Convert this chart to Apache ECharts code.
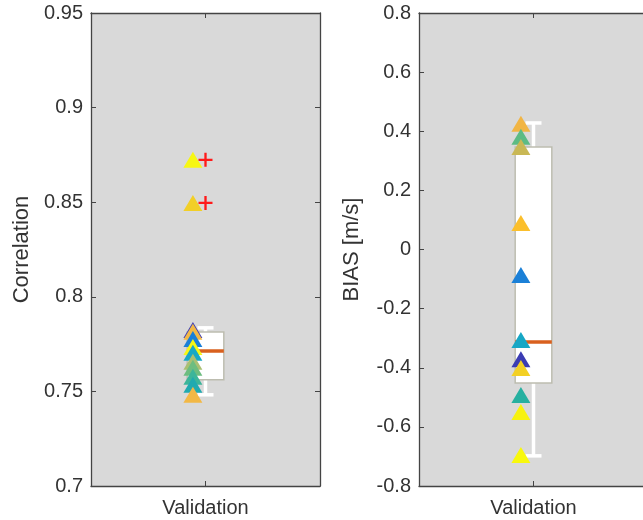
<!DOCTYPE html>
<html>
<head>
<meta charset="utf-8">
<script src="https://cdn.jsdelivr.net/npm/echarts@6/dist/echarts.min.js"></script>
<style>
html,body{margin:0;padding:0;background:#fff;}
#chart{width:643px;height:520px;}
</style>
</head>
<body>
<div id="chart"></div>
<script>
// ---- data ----
const categoryLabel = 'Validation';
const corrValues = [0.8724, 0.8496, 0.7825, 0.7815, 0.7777, 0.7735, 0.7704, 0.7657, 0.7625, 0.7577, 0.7535, 0.7482];
const corrColors = ['#f7f713', '#f2cf27', '#3d3db5', '#f2b845', '#1a7fd8', '#f7f713', '#17a8c6', '#a9c072', '#6dbd80', '#3cb59a', '#20aab0', '#f2b845'];
const corrBox = [0.7482, 0.7561, 0.7714, 0.7814, 0.7836]; // lower whisker, q1, median, q3, upper whisker
const corrOutliers = [0.8724, 0.8496];
const corrTicks = [0.7, 0.75, 0.8, 0.85, 0.9, 0.95];

const biasValues = [0.425, 0.381, 0.347, 0.090, -0.086, -0.306, -0.371, -0.401, -0.492, -0.550, -0.695];
const biasColors = ['#f1b544', '#5dbb84', '#c9b855', '#fbbf2c', '#1b80d7', '#17a7c5', '#3b3cb3', '#f3d024', '#26b0a0', '#f7f20e', '#f8f80c'];
const biasBox = [-0.698, -0.452, -0.313, 0.347, 0.428];
const biasOutliers = [];
const biasTicks = [-0.8, -0.6, -0.4, -0.2, 0, 0.2, 0.4, 0.6, 0.8];

// ---- layout / style ----
const catPos = 1;
const markerPos = 0.945;
const boxHalf = 0.08;
const capHalf = 0.035;
const axisColor = '#444';
const textColor = '#333';
const font = '"Liberation Sans", Arial, Helvetica, sans-serif';

const chart = echarts.init(document.getElementById('chart'), null, {renderer: 'canvas'});

function xAxes(gridIndex) {
  const base = {
    gridIndex, type: 'value', min: 0.5, max: 1.5, interval: 0.5,
    splitLine: {show: false},
    axisLine: {show: true, onZero: false, lineStyle: {color: axisColor, width: 1.3}},
    axisTick: {show: true, inside: true, length: 5, lineStyle: {color: axisColor}}
  };
  return [
    Object.assign({}, base, {
      position: 'bottom',
      axisLabel: {show: true, margin: 12, color: textColor, fontFamily: font, fontSize: 20,
        formatter: v => Math.abs(v - catPos) < 1e-6 ? categoryLabel : ''}
    }),
    Object.assign({}, base, {position: 'top', axisLabel: {show: false}})
  ];
}
function yAxes(gridIndex, ticks, name, nameGap) {
  const step = ticks[1] - ticks[0];
  const base = {
    gridIndex, type: 'value', min: ticks[0], max: ticks[ticks.length - 1], interval: step,
    splitLine: {show: false},
    axisLine: {show: true, onZero: false, lineStyle: {color: axisColor, width: 1.3}},
    axisTick: {show: true, inside: true, length: 5, lineStyle: {color: axisColor}}
  };
  return [
    Object.assign({}, base, {
      position: 'left', name, nameLocation: 'middle', nameGap,
      nameTextStyle: {color: textColor, fontFamily: font, fontSize: 22},
      axisLabel: {show: true, margin: 8, color: textColor, fontFamily: font, fontSize: 20,
        formatter: v => String(parseFloat(v.toFixed(4)))}
    }),
    Object.assign({}, base, {position: 'right', axisLabel: {show: false}})
  ];
}

function boxSeries(idx, stats) {
  return {
    type: 'custom', xAxisIndex: idx * 2, yAxisIndex: idx * 2, z: 2,
    data: [[catPos].concat(stats)],
    renderItem: function (params, api) {
      const x = api.value(0);
      const lw = api.value(1), q1 = api.value(2), med = api.value(3), q3 = api.value(4), uw = api.value(5);
      const pTL = api.coord([x - boxHalf, q3]);
      const pBR = api.coord([x + boxHalf, q1]);
      const pMedL = api.coord([x - boxHalf, med]);
      const pMedR = api.coord([x + boxHalf, med]);
      const pUW = api.coord([x, uw]);
      const pLW = api.coord([x, lw]);
      const pQ3 = api.coord([x, q3]);
      const pQ1 = api.coord([x, q1]);
      const capL = api.coord([x - capHalf, 0])[0];
      const capR = api.coord([x + capHalf, 0])[0];
      const white = {stroke: '#ffffff', lineWidth: 3.5};
      return {
        type: 'group',
        children: [
          {type: 'line', shape: {x1: pUW[0], y1: pUW[1], x2: pQ3[0], y2: pQ3[1]}, style: white},
          {type: 'line', shape: {x1: pLW[0], y1: pLW[1], x2: pQ1[0], y2: pQ1[1]}, style: white},
          {type: 'line', shape: {x1: capL, y1: pUW[1], x2: capR, y2: pUW[1]}, style: white},
          {type: 'line', shape: {x1: capL, y1: pLW[1], x2: capR, y2: pLW[1]}, style: white},
          {type: 'rect', shape: {x: pTL[0], y: pTL[1], width: pBR[0] - pTL[0], height: pBR[1] - pTL[1]},
            style: {fill: '#ffffff', stroke: '#bdbdb0', lineWidth: 1.5}},
          {type: 'line', shape: {x1: pMedL[0], y1: pMedL[1], x2: pMedR[0], y2: pMedR[1]},
            style: {stroke: '#d9601e', lineWidth: 3.5}}
        ]
      };
    }
  };
}
function markerSeries(idx, values, colors) {
  return {
    type: 'scatter', xAxisIndex: idx * 2, yAxisIndex: idx * 2, z: 3,
    symbol: 'triangle', symbolSize: [19, 16], silent: true,
    data: values.map((v, i) => ({value: [markerPos, v], itemStyle: {color: colors[i], opacity: 1}}))
  };
}
function outlierSeries(idx, values) {
  return {
    type: 'scatter', xAxisIndex: idx * 2, yAxisIndex: idx * 2, z: 4,
    symbol: 'path://M5,0h2v5h5v2h-5v5h-2v-5h-5v-2h5z', symbolSize: 14, silent: true,
    itemStyle: {color: '#ff1a1a', opacity: 1},
    data: values.map(v => [catPos, v])
  };
}

const option = {
  backgroundColor: '#ffffff',
  animation: false,
  grid: [
    {left: 91, top: 13, width: 229, height: 473, show: true, backgroundColor: '#d9d9d9', borderWidth: 0,
      containLabel: false, outerBoundsMode: 'none'},
    {left: 419, top: 13, width: 229, height: 473, show: true, backgroundColor: '#d9d9d9', borderWidth: 0,
      containLabel: false, outerBoundsMode: 'none'}
  ],
  xAxis: xAxes(0).concat(xAxes(1)),
  yAxis: yAxes(0, corrTicks, 'Correlation', 58).concat(yAxes(1, biasTicks, 'BIAS [m/s]', 56)),
  series: [
    boxSeries(0, corrBox), markerSeries(0, corrValues, corrColors), outlierSeries(0, corrOutliers),
    boxSeries(1, biasBox), markerSeries(1, biasValues, biasColors), outlierSeries(1, biasOutliers)
  ]
};
chart.setOption(option);
</script>
</body>
</html>
